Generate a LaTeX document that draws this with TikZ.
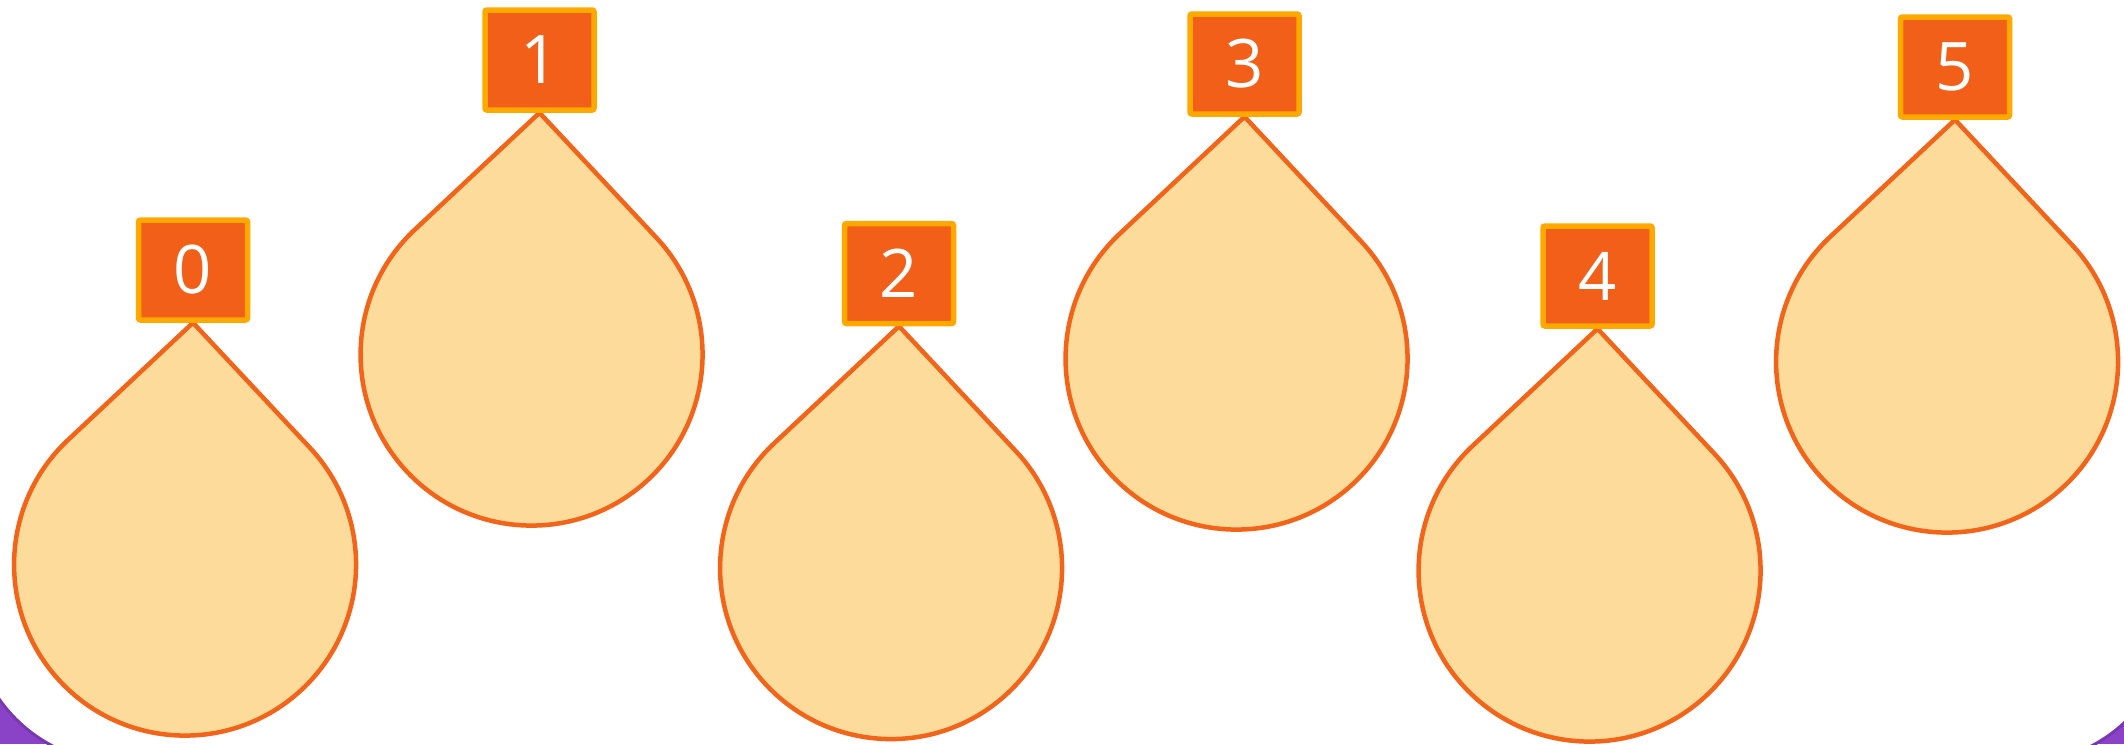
\documentclass[tikz,border=0pt]{standalone}
\usepackage{fontspec}
\setmainfont{Open Sans}
\usetikzlibrary{backgrounds}
\definecolor{dropfill}{HTML}{FDDC9B}
\definecolor{dropline}{HTML}{F26419}
\definecolor{boxfill}{HTML}{F15F19}
\definecolor{boxline}{HTML}{FFA800}
\definecolor{purp}{HTML}{8A43C6}
\definecolor{purpedge}{HTML}{7A37B3}
\begin{document}
\begin{tikzpicture}[x=1pt,y=1pt,
  lbl/.style={draw=boxline, fill=boxfill, line width=5.5pt, rounded corners=2pt,
    minimum width=109pt, minimum height=100pt, inner sep=0pt, text=white,
    font=\fontsize{67}{70}\selectfont},
  dropshape/.style={draw=dropline, fill=dropfill, line width=4.5pt, line join=round}]
\useasboundingbox (0,0) rectangle (2124,-744);
\node[lbl] (n0) at (193,-270) {0};
\node[lbl] (n1) at (539.5,-60) {1};
\node[lbl] (n2) at (899,-273.5) {2};
\node[lbl] (n3) at (1244.5,-64) {3};
\node[lbl] (n4) at (1597.5,-276) {4};
\node[lbl] (n5) at (1955,-67) {5};
\begin{scope}[on background layer]
  \begin{scope}
    \clip (0,0) rectangle (2124,-744);
    \fill[purp] (0,0) rectangle (2124,-744);
    \draw[purpedge, fill=white, line width=3pt, rounded corners=150pt] (-28,300) rectangle (2172,-763);
  \end{scope}
  \foreach \n in {n0,n1,n2,n3,n4,n5}{
    \path[dropshape] (\n.south) -- ++(-124.9,-117.1)
      arc[start angle=133.16, end angle=403.06, radius=171pt] -- cycle;
  }
\end{scope}
\end{tikzpicture}
\end{document}
